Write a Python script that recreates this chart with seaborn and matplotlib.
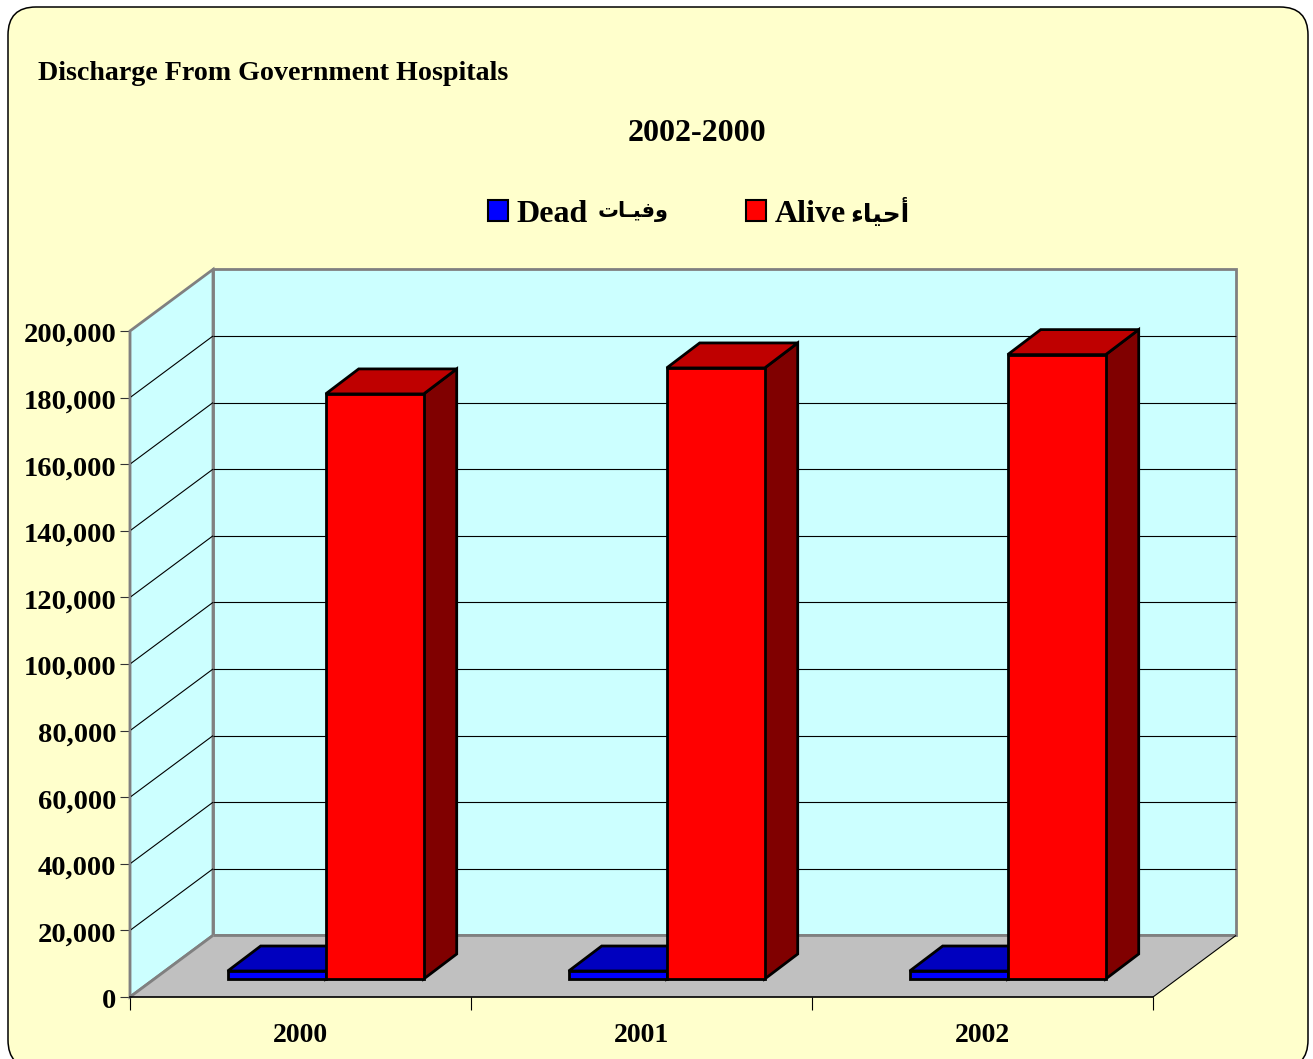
import numpy as np
import pandas as pd
import matplotlib
matplotlib.use("Agg")
import matplotlib.pyplot as plt
from matplotlib.patches import Polygon, FancyBboxPatch, Patch
from matplotlib.transforms import IdentityTransform, Affine2D
from matplotlib.ticker import FuncFormatter
import seaborn as sns

years = ["2000", "2001", "2002"]
dead = [2400, 2400, 2400]
alive = [175700, 183500, 187500]
# Arabic in visual order, using presentation forms (matplotlib does not shape Arabic)
ar_dead = "\uFE95\uFE8E\u0640\uFEF4\uFED3\uFEED"
ar_alive = "\uFE80\uFE8E\uFEF4\uFEA3\uFE83"
series_names = ["Dead", "Alive"]
title_left = "Discharge From Government Hospitals"
title_center = "2002-2000"
y_ticks = list(range(0, 200001, 20000))

W, H = 1313, 1059
sns.set_theme(style="white")
plt.rcParams["font.family"] = ["Liberation Serif", "DejaVu Sans"]
plt.rcParams["font.weight"] = "bold"

fig = plt.figure(figsize=(W / 100, H / 100), dpi=100, facecolor="white")
ident = IdentityTransform()

# rounded panel
fig.add_artist(FancyBboxPatch((8 + 28, H - 1068 + 28), 1300 - 56, 1061 - 56,
                              boxstyle="round,pad=28,rounding_size=28", transform=ident,
                              facecolor="#FFFFCC", edgecolor="black", linewidth=1.1,
                              zorder=-5))

ax = fig.add_axes([130 / W, 1 - 997 / H, (1153 - 130) / W, (997 - 331) / H])
ax.patch.set_visible(False)

df = pd.DataFrame({
    "year": years * 2,
    "series": [series_names[0]] * 3 + [series_names[1]] * 3,
    "value": dead + alive,
})
BAR_W = 2 * 98 / 341
EDGE = 2.0
sns.barplot(data=df, x="year", y="value", hue="series", order=years,
            palette=["#0000FF", "#FF0000"], width=BAR_W, gap=0, dodge=True,
            edgecolor="black", linewidth=EDGE, legend=False, ax=ax, saturation=1)
ax.set_xlim(-0.5, 2.5)
ax.set_ylim(0, 200000)
ax.set_xlabel("")
ax.set_ylabel("")

FLOOR = np.array([83.0, 61.6])   # wall depth in pixels
BAR_OFF = np.array([25.2, 18.0]) # gap from front plane to the bars
BAR_D = np.array([33.0, 25.0])   # bar depth
to_px = ax.transData.transform

def poly(pts, fc, ec="none", lw=0, z=1):
    ax.add_patch(Polygon(pts, closed=True, facecolor=fc, edgecolor=ec, linewidth=lw,
                         transform=ident, clip_on=False, zorder=z, joinstyle="miter"))

p00 = to_px((-0.5, 0)); p10 = to_px((2.5, 0))
p01 = to_px((-0.5, 200000)); p11 = to_px((2.5, 200000))
GRAY = "#808080"
# back wall, side wall, floor
poly([p00 + FLOOR, p10 + FLOOR, p11 + FLOOR, p01 + FLOOR], "#CCFFFF", GRAY, 2.0, 0.5)
poly([p00, p00 + FLOOR, p01 + FLOOR, p01], "#CCFFFF", GRAY, 2.0, 0.6)
poly([p00, p10, p10 + FLOOR, p00 + FLOOR], "#C0C0C0", "none", 0, 0.7)

def seg(a, b, color="black", lw=0.8, z=0.9):
    ax.plot([a[0], b[0]], [a[1], b[1]], color=color, lw=lw, transform=ident,
            clip_on=False, zorder=z, solid_capstyle="butt")

seg(p00, p00 + FLOOR, GRAY, 2.0)
seg(p00 + FLOOR, p10 + FLOOR, GRAY, 2.0)
seg(p10, p10 + FLOOR, "black", 0.8)
for v in y_ticks[1:-1]:
    a = to_px((-0.5, v)); b = to_px((2.5, v))
    seg(a, a + FLOOR)
    seg(a + FLOOR, b + FLOOR)

# 3D bars: seaborn draws the fronts, sides and tops follow each bar's geometry
shift = Affine2D().translate(*BAR_OFF)
shades = [("#0000BF", "#000080"), ("#BF0000", "#800000")]
for i, cont in enumerate(ax.containers):
    top_c, side_c = shades[i]
    base = 3 + 3 * i
    for bar in cont:
        x0, x1 = bar.get_x(), bar.get_x() + bar.get_width()
        v = bar.get_height()
        br = to_px((x1, 0)) + BAR_OFF
        tl = to_px((x0, v)) + BAR_OFF; tr = to_px((x1, v)) + BAR_OFF
        poly([br, br + BAR_D, tr + BAR_D, tr], side_c, "black", EDGE, base)
        poly([tl, tr, tr + BAR_D, tl + BAR_D], top_c, "black", EDGE, base + 0.5)
        bar.set_transform(ax.transData + shift)
        bar.set_clip_on(False)
        bar.set_zorder(base + 1)
        bar.set_joinstyle("miter")

# axes
for s in ("top", "right"):
    ax.spines[s].set_visible(False)
ax.spines["left"].set_color(GRAY)
ax.spines["left"].set_linewidth(1.5)
ax.spines["bottom"].set_color("black")
ax.spines["bottom"].set_linewidth(1.2)
ax.set_yticks(y_ticks)
ax.yaxis.set_major_formatter(FuncFormatter(lambda v, _: f"{int(v):,}"))
ax.tick_params(axis="y", left=True, length=7, width=0.8, color="#333333", pad=3,
               labelsize=20.5, labelcolor="black")
ax.set_xticks([0, 1, 2], years)
ax.set_xticks([-0.5, 0.5, 1.5, 2.5], minor=True)
ax.tick_params(axis="x", which="major", bottom=False, length=0, pad=18.5, labelsize=20, labelcolor="black")
ax.tick_params(axis="x", which="minor", bottom=True, length=9, width=0.8, color="black")
for lab in ax.get_xticklabels() + ax.get_yticklabels():
    lab.set_fontweight("bold")
for lab in ax.get_yticklabels():
    lab.set_transform(lab.get_transform() + Affine2D().translate(0, -1.5))

# titles
fig.text(38 / W, 1 - 74 / H, title_left, fontsize=20.2, fontweight="bold", color="black",
         ha="left", va="center")
fig.text(697 / W, 1 - 134 / H, title_center, fontsize=23, fontweight="bold", color="black",
         ha="center", va="center")

# legend
handles = [Patch(facecolor="#0000FF", edgecolor="black", linewidth=1.5),
           Patch(facecolor="#FF0000", edgecolor="black", linewidth=1.5)]
fig.legend(handles, series_names, loc="center left", bbox_to_anchor=(488 / W, 1 - 214.5 / H),
           ncols=2, frameon=False, handlelength=0.62, handleheight=0.62,
           handletextpad=0.28, columnspacing=4.95, borderpad=0, borderaxespad=0,
           labelcolor="black", prop={"weight": "bold", "size": 23})
fig.text(598 / W, 1 - 212 / H, ar_dead, fontsize=15, fontweight="bold", color="black",
         ha="left", va="center", family="DejaVu Sans")
fig.text(850 / W, 1 - 212 / H, ar_alive, fontsize=18, fontweight="bold", color="black",
         ha="left", va="center", family="DejaVu Sans")

fig.savefig("out.png", dpi=100, facecolor="white")
